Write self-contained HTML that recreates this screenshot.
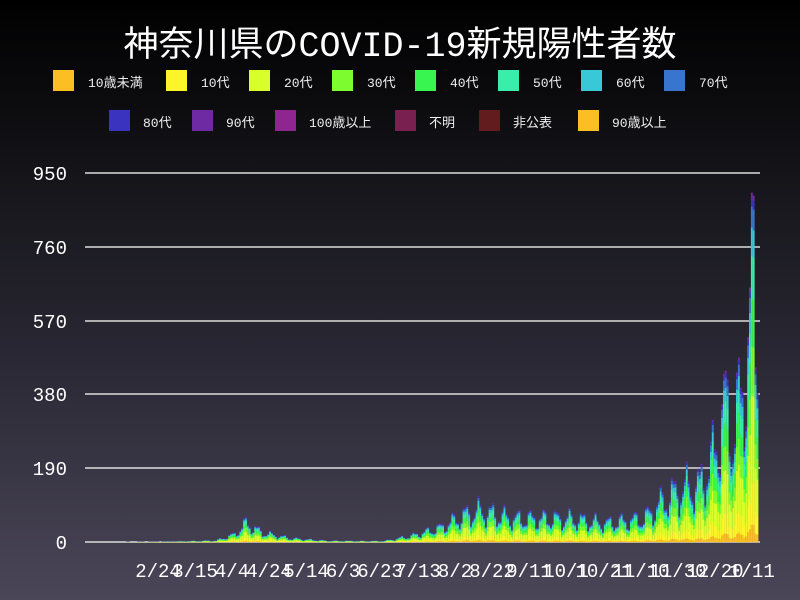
<!DOCTYPE html>
<html><head><meta charset="utf-8"><style>
html,body{margin:0;padding:0}
body{width:800px;height:600px;background:linear-gradient(#000 0%,#15151a 30%,#2a2834 60%,#4a4658 100%);font-family:"Liberation Mono","Noto Sans CJK JP",monospace;color:#fff;overflow:hidden;position:relative}
.t{position:absolute;top:16px;left:0;width:800px;text-align:center;font-size:35px;font-family:"Liberation Mono","Noto Sans CJK JP",monospace}
.lg{position:absolute;font-size:13px;color:#eee;white-space:nowrap}
.sw{position:absolute;width:21px;height:21px}
</style></head><body>
<div class="t">神奈川県のCOVID-19新規陽性者数</div>
<div id="leg"></div>
<svg width="800" height="600" style="position:absolute;left:0;top:0">
<g stroke="#ddd" stroke-width="1.5">
<line x1="85" x2="760" y1="173" y2="173"/><line x1="85" x2="760" y1="247" y2="247"/>
<line x1="85" x2="760" y1="321" y2="321"/><line x1="85" x2="760" y1="394" y2="394"/>
<line x1="85" x2="760" y1="468" y2="468"/><line x1="85" x2="760" y1="542" y2="542"/>
</g>
<g fill="#fff" font-size="19" text-anchor="end" font-family="Liberation Mono,monospace">
<text x="67" y="180">950</text><text x="67" y="254">760</text><text x="67" y="328">570</text>
<text x="67" y="401">380</text><text x="67" y="475">190</text><text x="67" y="549">0</text>
</g>
<g fill="#fff" font-size="19" text-anchor="middle" font-family="Liberation Mono,monospace">
<text x="158" y="577">2/24</text><text x="195" y="577">3/15</text><text x="232" y="577">4/4</text>
<text x="269" y="577">4/24</text><text x="306" y="577">5/14</text><text x="343" y="577">6/3</text>
<text x="380" y="577">6/23</text><text x="418" y="577">7/13</text><text x="455" y="577">8/2</text>
<text x="492" y="577">8/22</text><text x="529" y="577">9/11</text><text x="566" y="577">10/1</text>
<text x="604" y="577">10/21</text><text x="641" y="577">11/10</text><text x="678" y="577">11/30</text>
<text x="715" y="577">12/20</text><text x="752" y="577">1/11</text>
</g>
<g id="bars"></g>
</svg>
<script>
var L=[["10歳未満","#fbbf24",53,70,35],["10代","#fdf52a",166,70,35],["20代","#d9ff2b",249,70,35],["30代","#7dfc2f",332,70,35],["40代","#39f54f",415,70,35],["50代","#3aedaa",498,70,35],["60代","#38c8d8",581,70,35],["70代","#3875cf",664,70,35],
["80代","#3a33c0",109,110,34],["90代","#6e2aa3",192,110,34],["100歳以上","#8e2590",275,110,34],["不明","#7a2050",395,110,34],["非公表","#621c1e",479,110,34],["90歳以上","#fbbf24",578,110,34]];
var h="";L.forEach(function(l){h+='<div class="sw" style="left:'+l[2]+'px;top:'+l[3]+'px;background:'+l[1]+'"></div><div class="lg" style="left:'+(l[2]+l[4])+'px;top:'+(l[3]+2)+'px">'+l[0]+'</div>'});
document.getElementById("leg").innerHTML=h;
var P=[[0,0],[40,1],[70,5],[80,25],[86,60],[95,30],[110,12],[130,4],[160,3],[175,20],[190,45],[205,90],[212,100],[230,75],[260,75],[280,60],[300,75],[310,130],[320,170],[330,180],[338,280],[343,440],[348,340],[352,460],[356,600],[359,900],[361,650]];
function tot(d){for(var i=1;i<P.length;i++){if(d<=P[i][0]){var a=P[i-1],b=P[i];return a[1]+(b[1]-a[1])*(d-a[0])/(b[0]-a[0]);}}return 0;}
var fr=[[.05,"#fbbf24"],[.12,"#fdf52a"],[.25,"#d9ff2b"],[.14,"#7dfc2f"],[.14,"#39f54f"],[.12,"#3aedaa"],[.08,"#38c8d8"],[.06,"#3875cf"],[.025,"#3a33c0"],[.015,"#6e2aa3"]];
var s="";
for(var d=0;d<=361;d++){var t=tot(d)*(0.8+0.3*Math.sin(d*0.9)+0.1*Math.sin(d*2.3));if(t<0.5)continue;
var x=85+d*1.86,y=542,k=0.3884;
fr.forEach(function(f){var hh=t*f[0]*k;y-=hh;s+='<rect x="'+x.toFixed(1)+'" y="'+y.toFixed(1)+'" width="1.9" height="'+(hh+0.2).toFixed(1)+'" fill="'+f[1]+'"/>';});}
document.getElementById("bars").innerHTML=s;
</script>
</body></html>
